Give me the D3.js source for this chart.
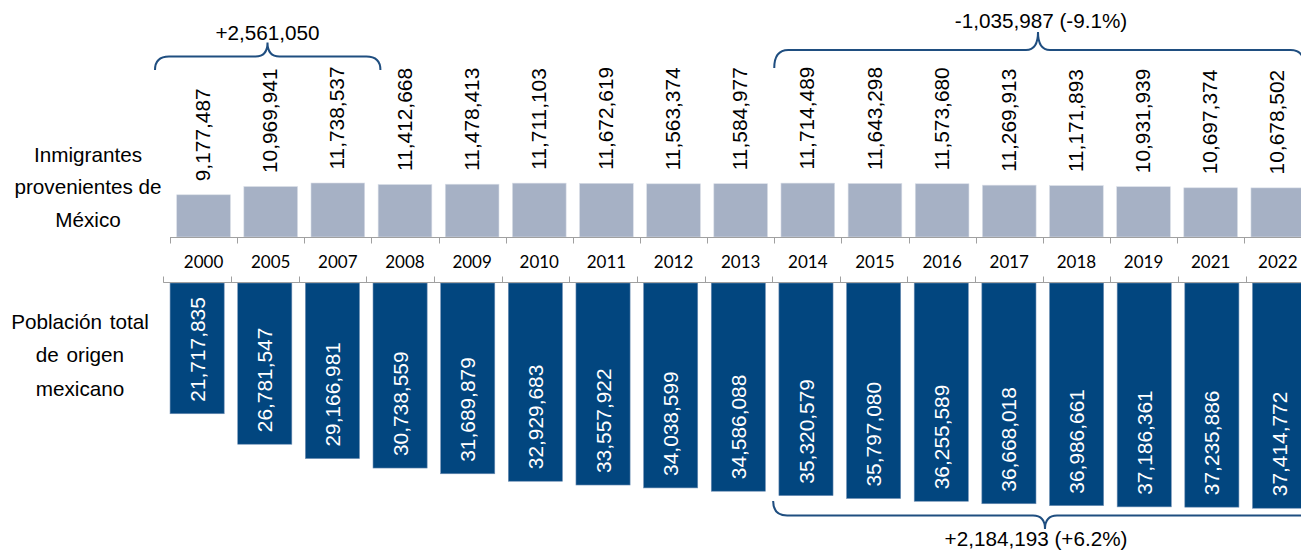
<!DOCTYPE html>
<html>
<head>
<meta charset="utf-8">
<script src="https://cdn.jsdelivr.net/npm/d3@7"></script>
<style>
  body { margin: 0; background: #fff; }
  svg { display: block; }
  text { font-family: "Liberation Sans", Arial, sans-serif; fill: #000; }
</style>
</head>
<body>
<svg width="1301" height="550"></svg>
<script>
var years = ["2000", "2005", "2007", "2008", "2009", "2010", "2011", "2012", "2013",
             "2014", "2015", "2016", "2017", "2018", "2019", "2021", "2022"];

var inmigrantes = [9177487, 10969941, 11738537, 11412668, 11478413, 11711103, 11672619,
                   11563374, 11584977, 11714489, 11643298, 11573680, 11269913, 11171893,
                   10931939, 10697374, 10678502];

var poblacion = [21717835, 26781547, 29166981, 30738559, 31689879, 32929683, 33557922,
                 34038599, 34586088, 35320579, 35797080, 36255589, 36668018, 36986661,
                 37186361, 37235886, 37414772];

var topLabel = ["Inmigrantes", "provenientes de", "México"];
var bottomLabel = ["Población total", "de origen", "mexicano"];

var notes = [
    { text: "+2,561,050", from: "2000", to: "2008", side: "top" },
    { text: "-1,035,987 (-9.1%)", from: "2014", to: "2022", side: "top" },
    { text: "+2,184,193 (+6.2%)", from: "2014", to: "2022", side: "bottom" }
];

var fmt = d3.format(",");

var svg = d3.select("svg");

var topStep = 67.14, botStep = 67.65;

var xTop = d3.scaleBand()
    .domain(years)
    .range([170, 170 + years.length * topStep])
    .paddingInner(0.2)
    .paddingOuter(0.1);

var xBot = d3.scaleBand()
    .domain(years)
    .range([163.3, 163.3 + years.length * botStep])
    .paddingInner(0.2)
    .paddingOuter(0.1);

var yTop = d3.scaleLinear().domain([0, 12e6]).range([237, 237 - 12 * 4.6]);
var yBot = d3.scaleLinear().domain([0, 40e6]).range([283, 283 + 40 * 6.02]);

// top bars
svg.append("g")
    .selectAll("rect")
    .data(inmigrantes)
    .enter()
    .append("rect")
    .attr("x", function (d, i) { return xTop(years[i]); })
    .attr("width", xTop.bandwidth())
    .attr("y", function (d) { return yTop(d); })
    .attr("height", function (d) { return yTop(0) - yTop(d); })
    .attr("fill", "#a6b1c5")
    .attr("stroke", "#d9dee7")
    .attr("stroke-width", 0.6);

svg.append("g")
    .selectAll("text")
    .data(inmigrantes)
    .enter()
    .append("text")
    .attr("transform", function (d, i) {
        return "translate(" + (xTop(years[i]) + xTop.bandwidth() / 2 - 1) + "," + (yTop(d) - 13.5) + ") rotate(-90)";
    })
    .attr("dy", "0.36em")
    .style("font-size", "20.9px")
    .text(function (d) { return fmt(d); });

// bottom bars
svg.append("g")
    .selectAll("rect")
    .data(poblacion)
    .enter()
    .append("rect")
    .attr("x", function (d, i) { return xBot(years[i]); })
    .attr("width", xBot.bandwidth())
    .attr("y", yBot(0))
    .attr("height", function (d) { return yBot(d) - yBot(0); })
    .attr("fill", "#02467f")
    .attr("stroke", "#6f8fb5")
    .attr("stroke-width", 0.6);

svg.append("g")
    .selectAll("text")
    .data(poblacion)
    .enter()
    .append("text")
    .attr("transform", function (d, i) {
        return "translate(" + (xBot(years[i]) + xBot.bandwidth() / 2) + "," + (yBot(d) - 12) + ") rotate(-90)";
    })
    .attr("dy", "0.36em")
    .style("font-size", "20.9px")
    .style("fill", "#fff")
    .text(function (d) { return fmt(d); });

// axes
var topY = yTop(0) + 0.5, botY = yBot(0) - 0.5;
var axisG = svg.append("g").attr("stroke", "#a0a0a0").attr("stroke-width", 1);
axisG.append("line")
    .attr("x1", xTop.range()[0]).attr("x2", 1301)
    .attr("y1", topY).attr("y2", topY);
axisG.append("line")
    .attr("x1", xBot.range()[0]).attr("x2", 1301)
    .attr("y1", botY).attr("y2", botY);
years.forEach(function (y) {
    var tx = Math.round(xTop(y) - xTop.step() * 0.1) + 0.5;
    var bx = Math.round(xBot(y) - xBot.step() * 0.1) + 0.5;
    axisG.append("line").attr("x1", tx).attr("x2", tx).attr("y1", topY).attr("y2", topY + 6);
    axisG.append("line").attr("x1", bx).attr("x2", bx).attr("y1", botY).attr("y2", botY - 6);
});

svg.append("g")
    .selectAll("text")
    .data(years)
    .enter()
    .append("text")
    .attr("x", function (d) { return xTop(d) + xTop.bandwidth() / 2; })
    .attr("y", 267.5)
    .attr("text-anchor", "middle")
    .style("font-family", "Lato, 'Open Sans', sans-serif")
    .style("font-size", "17px")
    .text(function (d) { return d; });

// row titles
svg.append("g")
    .selectAll("text")
    .data(topLabel)
    .enter()
    .append("text")
    .attr("x", 88)
    .attr("y", function (d, i) { return 161.5 + i * 32.5; })
    .attr("text-anchor", "middle")
    .style("font-size", "20.7px")
    .text(function (d) { return d; });

svg.append("g")
    .selectAll("text")
    .data(bottomLabel)
    .enter()
    .append("text")
    .attr("x", 80)
    .attr("y", function (d, i) { return 328.5 + i * 33.5; })
    .attr("text-anchor", "middle")
    .style("font-size", "20.7px")
    .style("word-spacing", "2px")
    .text(function (d) { return d; });

// braces
function brace(x0, x1, xt, yEnd, yH, yTip) {
    var r = 14, rt = 12;
    return "M" + x0 + "," + yEnd +
        " Q" + x0 + "," + yH + " " + (x0 + r) + "," + yH +
        " L" + (xt - rt) + "," + yH +
        " Q" + xt + "," + yH + " " + xt + "," + yTip +
        " Q" + xt + "," + yH + " " + (xt + rt) + "," + yH +
        " L" + (x1 - r) + "," + yH +
        " Q" + x1 + "," + yH + " " + x1 + "," + yEnd;
}

var braceCfg = {
    "+2,561,050": { x0: xTop("2000") - xTop.step() * 0.1 - 15, x1: xTop("2008") - xTop.step() * 0.1 + 9, xt: 267.5, yEnd: 70, yH: 56.5, yTip: 42.5, ty: 40, tx: 267.5 },
    "-1,035,987 (-9.1%)": { x0: xTop("2014") - xTop.step() * 0.1, x1: xTop("2022") + xTop.step() * 0.8, xt: 1038, yEnd: 68, yH: 50, yTip: 32, ty: 28, tx: 1041 },
    "+2,184,193 (+6.2%)": { x0: xBot("2014") - xBot.step() * 0.1 + 1, x1: xBot("2022") + xBot.step() * 0.9, xt: 1045, yEnd: 501, yH: 515.5, yTip: 529, ty: 545.5, tx: 1036 }
};

notes.forEach(function (n) {
    var c = braceCfg[n.text];
    svg.append("path")
        .attr("d", brace(c.x0, c.x1, c.xt, c.yEnd, c.yH, c.yTip))
        .attr("fill", "none")
        .attr("stroke", "#1f4e80")
        .attr("stroke-width", 2);
    svg.append("text")
        .attr("x", c.tx)
        .attr("y", c.ty)
        .attr("text-anchor", "middle")
        .style("font-size", "20.7px")
        .text(n.text);
});
</script>
</body>
</html>
